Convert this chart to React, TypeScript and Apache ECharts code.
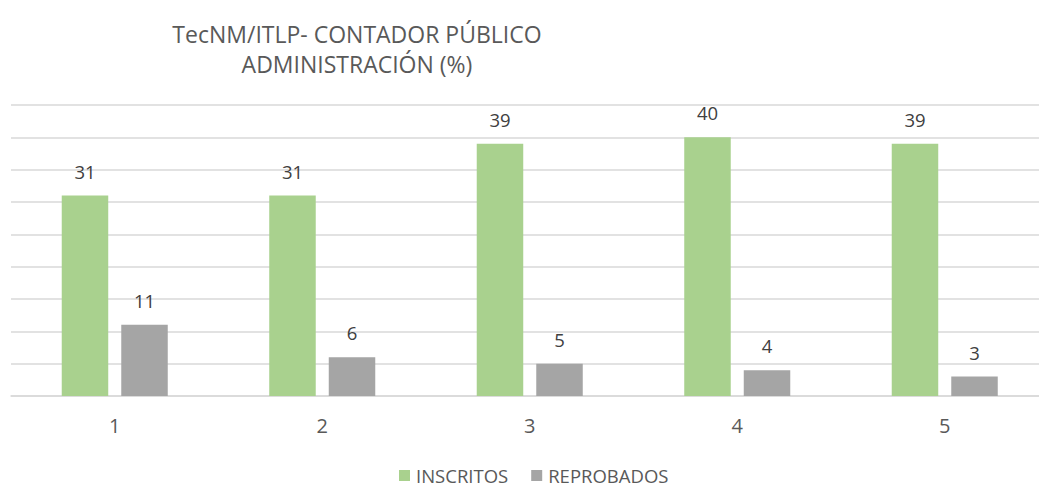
import React, { useEffect, useRef } from "react";
import * as echarts from "echarts";

const categories = ["1", "2", "3", "4", "5"];
const inscritos = [31, 31, 39, 40, 39];
const reprobados = [11, 6, 5, 4, 3];
const titleText = "TecNM/ITLP- CONTADOR PÚBLICO\nADMINISTRACIÓN (%)";

export default function App() {
  const ref = useRef<HTMLDivElement>(null);
  useEffect(() => {
    const chart = echarts.init(ref.current!, null, { renderer: "svg" });
    const font = "'Open Sans', 'Noto Sans', sans-serif";
    const label = {
      show: true,
      position: "top" as const,
      distance: 15,
      fontSize: 18.5,
      color: "#404040",
      fontFamily: font,
    };
    chart.setOption({
      animation: false,
      backgroundColor: "#ffffff",
      textStyle: { fontFamily: font },
      title: {
        text: titleText,
        left: 352,
        textAlign: "center",
        top: 14,
        textStyle: {
          fontSize: 23,
          fontWeight: "normal",
          color: "#595959",
          lineHeight: 30,
          fontFamily: font,
        },
      },
      legend: {
        data: ["INSCRITOS", "REPROBADOS"],
        left: 399,
        top: 466,
        padding: 0,
        itemWidth: 11,
        itemHeight: 11,
        itemGap: 23,
        icon: "rect",
        textStyle: { fontSize: 18.5, color: "#595959", fontFamily: font, lineHeight: 18, padding: [0, 0, 0, 1] },
      },
      grid: { left: 11, top: 105, width: 1037.5, height: 291, containLabel: false },
      xAxis: {
        type: "category",
        data: categories,
        axisLine: { show: true, lineStyle: { color: "#d9d9d9", width: 1.5 } },
        axisTick: { show: false },
        axisLabel: { fontSize: 20, color: "#595959", margin: 19, fontFamily: font },
      },
      yAxis: {
        type: "value",
        min: 0,
        max: 45,
        interval: 5,
        axisLabel: { show: false },
        axisLine: { show: false },
        axisTick: { show: false },
        splitLine: { lineStyle: { color: "#d9d9d9", width: 1.5 } },
      },
      series: [
        {
          name: "INSCRITOS",
          type: "bar",
          data: inscritos,
          barWidth: 46.5,
          barGap: "28%",
          itemStyle: { color: "#a9d18e" },
          label,
        },
        {
          name: "REPROBADOS",
          type: "bar",
          data: reprobados,
          barWidth: 46.5,
          barGap: "28%",
          itemStyle: { color: "#a5a5a5" },
          label,
        },
      ],
    });
    return () => chart.dispose();
  }, []);
  return (
    <div
      style={{
        position: "fixed",
        left: 0,
        top: 0,
        width: 1039,
        height: 487,
        overflow: "hidden",
        background: "#fff",
      }}
    >
      <div ref={ref} style={{ width: 1050, height: 487 }} />
    </div>
  );
}
